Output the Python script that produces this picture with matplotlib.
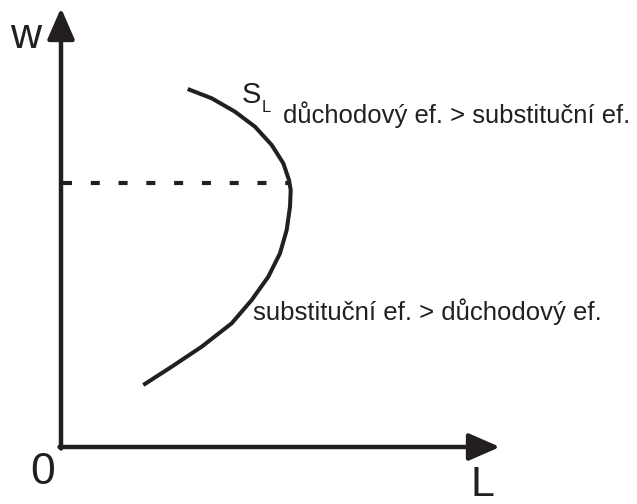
import matplotlib
matplotlib.use('Agg')
import matplotlib.pyplot as plt

plt.rcParams['font.family'] = ['Liberation Sans', 'DejaVu Sans']
plt.rcParams['lines.scale_dashes'] = False

INK = '#231f20'

# labour supply curve S_L (L, w), top end to bottom end
curve_L = [126.7, 150.7, 174, 194, 210.7, 222.3, 228, 229.7, 229, 225.7, 219,
           207.3, 190.7, 170.7, 140.7, 110.7, 82.3]
curve_w = [358, 348.7, 335.3, 320.3, 302, 283.7, 267, 257, 240.3, 217, 193.7,
           170.3, 147, 123.7, 100.3, 80.3, 62]

# wage level where the curve bends back
bend_w = 264
bend_L = 229

axis_L_end = 439
axis_w_end = 439

label_income = 'důchodový ef. > substituční ef.'
label_subst = 'substituční ef. > důchodový ef.'


def fit_text(fig, ax, x, y, s, width_px, size):
    # the reference uses a narrow face; shrink the regular one to the same width
    t = ax.text(x, y, s, fontsize=size, color=INK, ha='left', va='baseline')
    fig.canvas.draw()
    w = t.get_window_extent().width
    t.set_fontsize(size * width_px / w)
    return t


def main():
    fig = plt.figure(figsize=(6.37, 5.04), dpi=100)
    ax = fig.add_axes([0, 0, 1, 1])
    ax.set_xlim(-61, 576)
    ax.set_ylim(-57, 447)
    ax.axis('off')

    arrow = dict(arrowstyle='-|>,head_length=19,head_width=8.3', lw=3.2,
                 color=INK, shrinkA=0, shrinkB=0, mutation_scale=1)
    ax.annotate('', xy=(0, axis_w_end), xytext=(0, -1.5), arrowprops=arrow)
    ax.annotate('', xy=(axis_L_end, 0), xytext=(-1.5, 0), arrowprops=arrow)

    ax.plot([2, bend_L], [bend_w, bend_w], color=INK, lw=3,
            dashes=(6.5, 13.5), dash_capstyle='butt')

    ax.plot(curve_L, curve_w, color=INK, lw=2.9, solid_capstyle='butt',
            solid_joinstyle='round')

    ax.text(-51, 399, 'w', fontsize=31, color=INK, ha='left', va='baseline')
    ax.text(-31, -37, '0', fontsize=32, color=INK, ha='left', va='baseline')
    ax.text(410, -49, 'L', fontsize=31, color=INK, ha='left', va='baseline')

    ax.text(181, 344, 'S', fontsize=21, color=INK, ha='left', va='baseline')
    ax.text(201, 335, 'L', fontsize=12, color=INK, ha='left', va='baseline')

    fit_text(fig, ax, 222, 324, label_income, 347, 18)
    fit_text(fig, ax, 192, 127, label_subst, 349, 18)

    fig.savefig('out.png', dpi=100)


if __name__ == '__main__':
    main()
